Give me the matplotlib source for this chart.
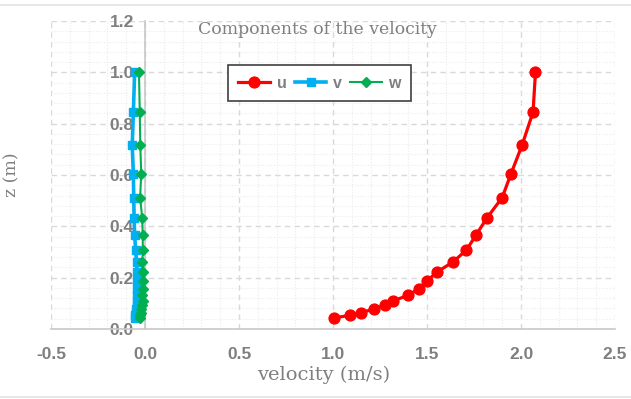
import matplotlib.pyplot as plt
from matplotlib.lines import Line2D
from matplotlib.ticker import MultipleLocator

# heights (m) and velocity components (m/s)
z = [1.0, 0.845, 0.715, 0.605, 0.512, 0.434, 0.365, 0.308, 0.261, 0.221,
     0.186, 0.157, 0.131, 0.110, 0.094, 0.078, 0.064, 0.053, 0.044]
u = [2.077, 2.064, 2.005, 1.947, 1.900, 1.820, 1.760, 1.710, 1.638, 1.551,
     1.499, 1.455, 1.401, 1.319, 1.278, 1.218, 1.151, 1.093, 1.007]
v = [-0.055, -0.062, -0.068, -0.062, -0.060, -0.058, -0.055, -0.050, -0.045, -0.043,
     -0.042, -0.042, -0.043, -0.044, -0.045, -0.046, -0.048, -0.052, -0.055]
w = [-0.032, -0.028, -0.025, -0.020, -0.026, -0.015, -0.012, -0.012, -0.014, -0.013,
     -0.008, -0.012, -0.015, -0.013, -0.018, -0.020, -0.022, -0.025, -0.028]

gray = "#7f7f7f"
serif = "DejaVu Serif"

fig = plt.figure(figsize=(6.31, 3.99), dpi=100)
ax = fig.add_axes([51/631, 1 - 329/399, 564/631, 308/399])

ax.plot(u, z, color="#ff0000", marker="o", markersize=7.8, linewidth=2.3, label="u", zorder=3)
ax.plot(v, z, color="#00b0f0", marker="s", markersize=6.2, linewidth=2.6, label="v", zorder=3)
ax.plot(w, z, color="#00b050", marker="D", markersize=5, linewidth=1.5, label="w", zorder=4)

ax.set_xlim(-0.5, 2.5)
ax.set_ylim(0, 1.2)
ax.xaxis.set_major_locator(MultipleLocator(0.5))
ax.xaxis.set_minor_locator(MultipleLocator(0.1))
ax.yaxis.set_major_locator(MultipleLocator(0.2))
ax.yaxis.set_minor_locator(MultipleLocator(0.04))
ax.xaxis.set_major_formatter(lambda x, p: f"{x:.1f}")
ax.yaxis.set_major_formatter(lambda y, p: f"{y:.1f}")

ax.grid(which="major", color="#d9d9d9", linestyle=(0, (4, 3)), linewidth=1)
ax.grid(which="minor", color="#ececec", linestyle=(0, (1, 1.5)), linewidth=0.8)
ax.set_axisbelow(True)

for s in ["top", "right"]:
    ax.spines[s].set_visible(False)
ax.spines["left"].set_position(("data", 0))
ax.spines["left"].set_color("#c8c8c8")
ax.spines["bottom"].set_color("#c8c8c8")
ax.spines["left"].set_linewidth(1.2)
ax.spines["bottom"].set_linewidth(1.2)

ax.tick_params(which="both", length=0)
ax.tick_params(axis="x", pad=13)
ax.tick_params(axis="y", pad=8)
for lab in ax.get_xticklabels() + ax.get_yticklabels():
    lab.set_family("Liberation Sans")
    lab.set_fontweight("bold")
    lab.set_fontsize(12.5)
    lab.set_color(gray)

ax.set_xlabel("velocity (m/s)", family=serif, fontsize=14, color=gray)
ax.xaxis.set_label_coords(0.484, -0.118)
ax.set_ylabel("z (m)", family=serif, fontsize=12.5, color=gray)
ax.yaxis.set_label_coords(-0.055, 0.5)

ax.text(0.473, 0.971, "Components of the velocity", transform=ax.transAxes,
        ha="center", va="center", family=serif, fontsize=12.4, color=gray)

leg = ax.legend(loc="center", bbox_to_anchor=(0.476, 0.798), ncol=3,
                handlelength=2.0, handletextpad=0.4, columnspacing=0.5,
                fancybox=False, framealpha=1, borderpad=0.65,
                prop={"family": "Liberation Sans", "weight": "bold", "size": 11.5})
leg.get_frame().set_edgecolor("#404040")
leg.get_frame().set_linewidth(1.2)
for t in leg.get_texts():
    t.set_color(gray)

# thin frame lines at top and bottom of the picture
fig.add_artist(Line2D([0, 1], [1 - 5/399, 1 - 5/399], color="#e3e3e3", linewidth=1.2))
fig.add_artist(Line2D([0, 1], [2/399, 2/399], color="#e3e3e3", linewidth=1.2))

fig.savefig("out.png", dpi=100)
